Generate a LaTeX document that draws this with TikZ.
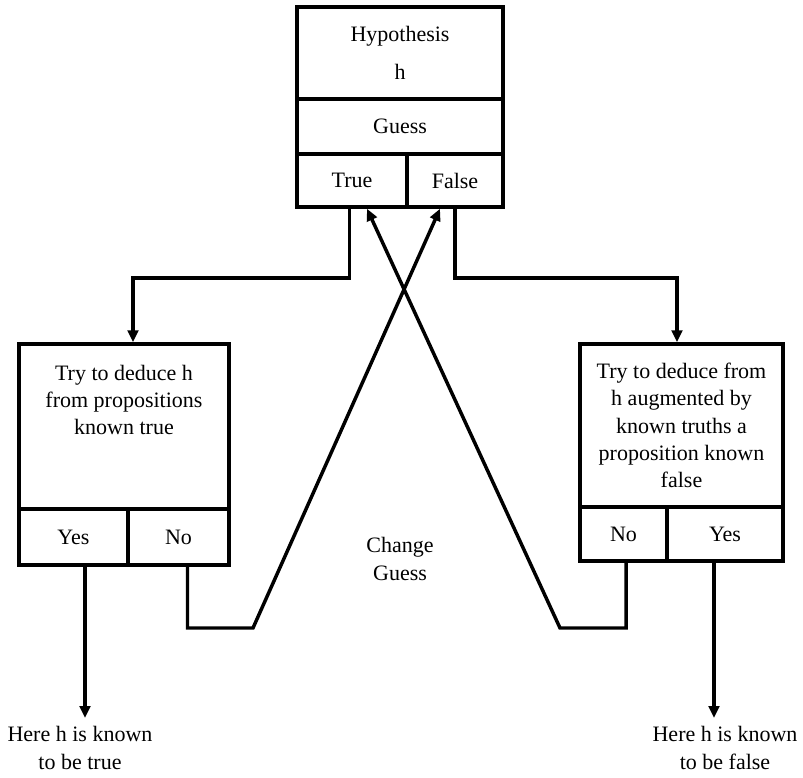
\documentclass[tikz,border=0pt]{standalone}
\usepackage{fontspec}
\setmainfont{Liberation Serif}
\usetikzlibrary{arrows.meta}

\tikzset{
	box/.style={draw, line width=2.6pt, rectangle, inner sep=0pt},
	txt/.style={align=center, font=\fontsize{16.5}{20.5}\selectfont},
	flow/.style={line width=2.6pt, -{Triangle[length=9pt,width=8pt]}}
}

\begin{document}
\begin{tikzpicture}[x=0.75pt,y=-0.75pt]
			\useasboundingbox (0,0) rectangle (803,778);
			% top box
			\node[box,txt,minimum width=154.5pt,minimum height=69pt] (hyp) at (400,53) {Hypothesis\\[8pt]h};
			\node[box,txt,minimum width=154.5pt,minimum height=41.25pt] (guess) at (400,126.5) {Guess};
			\node[box,txt,minimum width=82.5pt,minimum height=39.75pt] (true) at (352,180.5) {True};
			\node[box,txt,minimum width=72pt,minimum height=39.75pt] (false) at (455,180.5) {False};

			% left box
			\node[box,minimum width=157.5pt,minimum height=123.75pt] (lmain) at (124,426.5) {};
			\node[txt] (ltext) at (124,400) {Try to deduce h\\from propositions\\known true};
			\node[box,txt,minimum width=81.75pt,minimum height=42pt] (lyes) at (73.5,537) {Yes};
			\node[box,txt,minimum width=75.75pt,minimum height=42pt] (lno) at (178.5,537) {No};

			% right box
			\node[box,txt,minimum width=152.25pt,minimum height=122.25pt] (rmain) at (681.5,425.5) {Try to deduce from\\h augmented by\\known truths a\\proposition known\\false};
			\node[box,txt,minimum width=65.25pt,minimum height=40.5pt] (rno) at (623.5,534) {No};
			\node[box,txt,minimum width=87pt,minimum height=40.5pt] (ryes) at (725,534) {Yes};

			\node[txt] (change) at (400,559) {Change\\Guess};

			\coordinate (tl) at (133,278);
			\coordinate (fr) at (677,278);
			\coordinate (nl) at (253,628);
			\coordinate (nr) at (560,628);
			\coordinate (ltip) at (85,718);
			\coordinate (rtip) at (714,718);

			\node[txt,anchor=north] (lend) at (80,722) {Here h is known\\to be true};
			\node[txt,anchor=north] (rend) at (725,722) {Here h is known\\to be false};

			% connectors
			\draw[flow] ([xshift=-2pt]true.south) |- (tl) -- (tl |- lmain.north);
			\draw[flow] (false.south) |- (fr) -- (fr |- rmain.north);
			\draw[flow] ([xshift=6.75pt]lno.south) |- (nl) -- ([xshift=-11.25pt]false.south);
			\draw[flow] ([xshift=2pt]rno.south) |- (nr) -- ([xshift=11.25pt]true.south);
			\draw[flow] (ltip |- lyes.south) -- (ltip);
			\draw[flow] (rtip |- ryes.south) -- (rtip);
\end{tikzpicture}
\end{document}
